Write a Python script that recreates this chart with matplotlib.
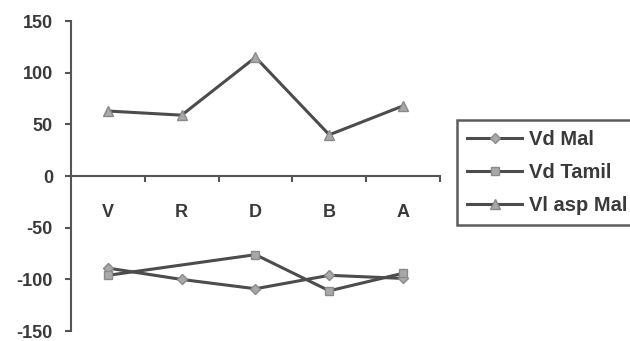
import numpy as np
import matplotlib.pyplot as plt
from matplotlib.ticker import FixedLocator, NullFormatter

plt.rcParams['font.family'] = ['Liberation Sans', 'DejaVu Sans']
plt.rcParams['axes.unicode_minus'] = False

categories = ['V', 'R', 'D', 'B', 'A']
vd_mal = [-89, -100, -109, -96, -99]
vd_tamil = [-96, np.nan, -76, -111, -94]
vl_asp_mal = [63, 59, 115, 40, 68]

line_c = '#4c4c4c'
face_c = '#a8a8a8'
text_c = '#3a3a3a'

fig = plt.figure(figsize=(6.3, 3.41), dpi=100)
ax = fig.add_axes([0.1127, 0.029, 0.5857, 0.909])

x = np.arange(len(categories))

def draw(vals, marker, label, ms):
    v = np.array(vals, dtype=float)
    ok = ~np.isnan(v)
    ax.plot(x[ok], v[ok], color=line_c, lw=2.2, marker=marker, ms=ms,
            mfc=face_c, mec='#8a8a8a', mew=1, label=label)

draw(vd_mal, 'D', 'Vd Mal', 5)
draw(vd_tamil, 's', 'Vd Tamil', 6)
draw(vl_asp_mal, '^', 'Vl asp Mal', 7)

ax.set_xlim(-0.5, 4.5)
ax.set_ylim(-150, 150)
ax.set_yticks([-150, -100, -50, 0, 50, 100, 150])

ax.spines['top'].set_visible(False)
ax.spines['right'].set_visible(False)
ax.spines['bottom'].set_position(('data', 0))
for s in ('left', 'bottom'):
    ax.spines[s].set_color('#555555')
    ax.spines[s].set_linewidth(1.5)

ax.xaxis.set_major_locator(FixedLocator(x + 0.5))
ax.xaxis.set_major_formatter(NullFormatter())
ax.xaxis.set_minor_locator(FixedLocator(x))
ax.set_xticklabels(categories, minor=True)
ax.tick_params(axis='x', which='major', direction='out', length=4, width=1.5, color='#555555')
ax.tick_params(axis='x', which='minor', length=0, pad=20, labelsize=13)
ax.tick_params(axis='y', direction='out', length=4, width=1.5, color='#555555', labelsize=13, pad=9)
for t in ax.get_xticklabels(minor=True) + ax.get_yticklabels():
    t.set_color(text_c)
    t.set_fontweight('bold')

leg = fig.legend(loc='upper left', bbox_to_anchor=(0.725, 0.648), frameon=True,
                 fancybox=False, edgecolor='#333333', fontsize=14.5,
                 handlelength=2.75, handletextpad=0.35, labelspacing=0.7,
                 borderpad=0.5, borderaxespad=0)
leg.get_frame().set_linewidth(1.8)
for t in leg.get_texts():
    t.set_fontweight('bold')
    t.set_color(text_c)

fig.savefig('out.png', dpi=100)
